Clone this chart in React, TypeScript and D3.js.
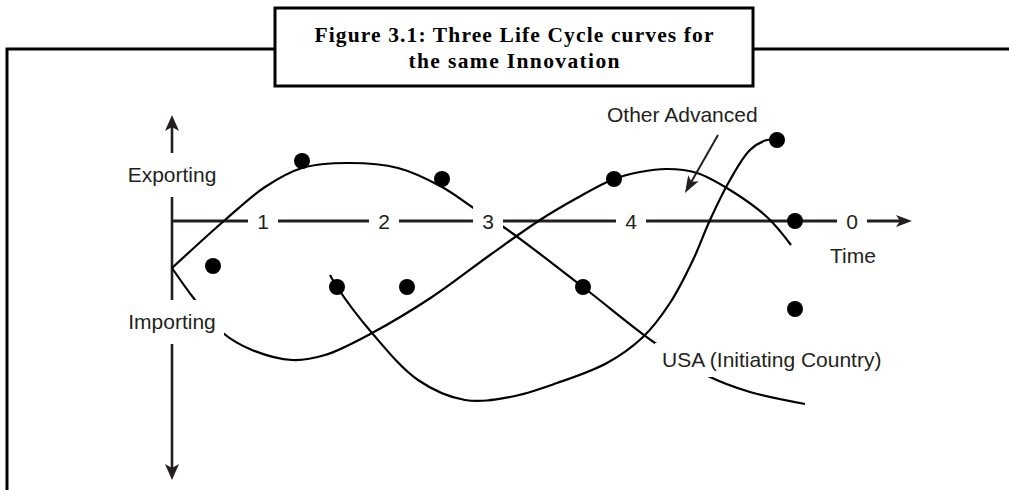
import { useRef, useEffect } from 'react';
import * as d3 from 'd3';

const W = 1009;
const H = 490;

// x = time (0..74), y = exporting (+) / importing (-)
const usaCurve: [number, number][] = [
  [0, -4.7], [5.3, 0.1], [9.3, 3.4], [13.0, 5.3], [17.6, 5.8], [22.6, 5.3],
  [27.0, 3.4], [30.3, 1.2], [33.3, -0.7], [41.1, -6.6], [48.3, -12.2],
  [53.6, -15.5], [57.8, -17.1], [63.3, -18.3],
];

const otherAdvancedCurve: [number, number][] = [
  [0, -4.7], [2.3, -7.9], [5.1, -11.2], [8.0, -12.9], [12.0, -13.9], [15.3, -13.4],
  [20.0, -11.2], [26.0, -7.6], [31.8, -3.4], [36.8, 0.1], [40.5, 2.3], [44.2, 4.2],
  [46.8, 4.9], [49.5, 5.2], [52.5, 4.8], [55.8, 3.1], [59.5, 0.4], [61.9, -2.4],
];

const lessDevelopedCurve: [number, number][] = [
  [15.8, -5.4], [16.5, -6.6], [20.0, -11.2], [24.6, -15.9], [29.3, -17.9],
  [33.8, -17.6], [38.5, -16.2], [43.5, -14.2], [47.1, -11.6], [49.8, -8.2],
  [52.1, -3.9], [53.8, 0.1], [55.8, 4.1], [57.8, 7.1], [59.5, 8.1], [60.5, 8.1],
];

const dots: [number, number][] = [
  [13.0, 6.0], [27.0, 4.2], [4.1, -4.5], [16.5, -6.6], [23.5, -6.6],
  [41.1, -6.6], [44.2, 4.2], [60.5, 8.1], [62.3, 0], [62.3, -8.8],
];

const stageLabels = ['1', '2', '3', '4', '0'];
const stageTimes = [9.1, 21.2, 31.6, 45.9, 68.0];

const titleLines = ['Figure 3.1: Three Life Cycle curves for', 'the same Innovation'];

const SANS = '"Liberation Sans", Arial, sans-serif';

// arrowhead with a small notch at the back
const arrowHead = (tx: number, ty: number, dx: number, dy: number, len = 16, hw = 7) => {
  const nx = -dy;
  const ny = dx;
  const bx = tx - dx * len;
  const by = ty - dy * len;
  const mx = tx - dx * (len - 4);
  const my = ty - dy * (len - 4);
  return `M${tx},${ty}L${bx + nx * hw},${by + ny * hw}L${mx},${my}L${bx - nx * hw},${by - ny * hw}Z`;
};

const App = () => {
  const svgRef = useRef(null);

  useEffect(() => {
    const svg = d3.select(svgRef.current);
    svg.selectAll('*').remove();

    const x = d3.scaleLinear().domain([0, 74]).range([172, 912]);
    const y = d3.scaleLinear().domain([-26, 10.6]).range([481, 115]);

    // outer frame and title box
    svg.append('path')
      .attr('d', 'M276,49H7V492M752,49H1012')
      .attr('fill', 'none')
      .attr('stroke', '#000')
      .attr('stroke-width', 3);

    svg.append('rect')
      .attr('x', 275).attr('y', 8).attr('width', 478).attr('height', 78)
      .attr('fill', '#fff').attr('stroke', '#000').attr('stroke-width', 3);

    svg.selectAll('text.title')
      .data(titleLines)
      .join('text')
      .attr('class', 'title')
      .attr('x', 514)
      .attr('y', (d, i) => 42 + i * 26)
      .attr('text-anchor', 'middle')
      .attr('font-family', '"Liberation Serif", "Times New Roman", serif')
      .attr('font-weight', 'bold')
      .attr('font-size', 21.5)
      .attr('textLength', (d, i) => (i === 0 ? 399 : 211))
      .attr('lengthAdjust', 'spacing')
      .text((d) => d);

    // axes
    const axisColor = '#231f20';
    const x0 = x(0);
    const y0 = y(0);
    const yTop = y(10.6);
    const yBot = y(-25.9);
    const xEnd = x(74);

    svg.append('line')
      .attr('x1', x0).attr('x2', x0).attr('y1', yTop + 12).attr('y2', yBot - 12)
      .attr('stroke', axisColor).attr('stroke-width', 2.6);
    svg.append('line')
      .attr('x1', x0).attr('x2', xEnd - 12).attr('y1', y0).attr('y2', y0)
      .attr('stroke', axisColor).attr('stroke-width', 2.8);

    svg.append('path').attr('d', arrowHead(x0, yTop, 0, -1)).attr('fill', axisColor);
    svg.append('path').attr('d', arrowHead(x0, yBot, 0, 1)).attr('fill', axisColor);
    svg.append('path').attr('d', arrowHead(xEnd, y0, 1, 0, 16, 6)).attr('fill', axisColor);

    // curves
    const line = d3.line<[number, number]>()
      .x((d) => x(d[0]))
      .y((d) => y(d[1]))
      .curve(d3.curveCatmullRom.alpha(0.5));

    svg.selectAll('path.curve')
      .data([usaCurve, otherAdvancedCurve, lessDevelopedCurve])
      .join('path')
      .attr('class', 'curve')
      .attr('d', (d) => line(d))
      .attr('fill', 'none')
      .attr('stroke', '#000')
      .attr('stroke-width', 2.2);

    // white gaps behind labels
    const gaps = [
      [122, 153, 102, 44],
      [120, 300, 104, 44],
      [655, 343, 240, 34],
    ];
    svg.selectAll('rect.gap')
      .data(gaps)
      .join('rect')
      .attr('class', 'gap')
      .attr('x', (d) => d[0]).attr('y', (d) => d[1])
      .attr('width', (d) => d[2]).attr('height', (d) => d[3])
      .attr('fill', '#fff');

    svg.selectAll('rect.stagegap')
      .data(stageTimes)
      .join('rect')
      .attr('class', 'stagegap')
      .attr('x', (d) => x(d) - 15)
      .attr('y', y0 - 16)
      .attr('width', 30)
      .attr('height', 32)
      .attr('fill', '#fff');

    svg.selectAll('text.stage')
      .data(stageLabels)
      .join('text')
      .attr('class', 'stage')
      .attr('x', (d, i) => x(stageTimes[i]))
      .attr('y', y0 + 7.5)
      .attr('text-anchor', 'middle')
      .attr('font-family', SANS)
      .attr('font-size', 21)
      .attr('fill', '#231f20')
      .text((d) => d);

    const labels = [
      { text: 'Exporting', x: 172, y: 182, anchor: 'middle' },
      { text: 'Importing', x: 172, y: 329, anchor: 'middle' },
      { text: 'Time', x: 853, y: 263, anchor: 'middle' },
      { text: 'USA (Initiating Country)', x: 662, y: 367, anchor: 'start' },
      { text: 'Other Advanced', x: 607, y: 122, anchor: 'start' },
    ];
    svg.selectAll('text.label')
      .data(labels)
      .join('text')
      .attr('class', 'label')
      .attr('x', (d) => d.x)
      .attr('y', (d) => d.y)
      .attr('text-anchor', (d) => d.anchor)
      .attr('font-family', SANS)
      .attr('font-size', 21)
      .attr('fill', '#231f20')
      .text((d) => d.text);

    // pointer for "Other Advanced"
    const ax1 = 718, ay1 = 135, ax2 = 685, ay2 = 193;
    const len = Math.hypot(ax2 - ax1, ay2 - ay1);
    const ux = (ax2 - ax1) / len;
    const uy = (ay2 - ay1) / len;
    svg.append('line')
      .attr('x1', ax1).attr('y1', ay1)
      .attr('x2', ax2 - ux * 12).attr('y2', ay2 - uy * 12)
      .attr('stroke', axisColor).attr('stroke-width', 2);
    svg.append('path').attr('d', arrowHead(ax2, ay2, ux, uy, 17, 6)).attr('fill', axisColor);

    // dots
    svg.selectAll('circle.dot')
      .data(dots)
      .join('circle')
      .attr('class', 'dot')
      .attr('cx', (d) => x(d[0]))
      .attr('cy', (d) => y(d[1]))
      .attr('r', 8)
      .attr('fill', '#000');
  }, []);

  return (
    <svg
      ref={svgRef}
      width={W}
      height={H}
      style={{ position: 'absolute', left: 0, top: 0, display: 'block', background: '#fff' }}
    ></svg>
  );
};

export default App;
